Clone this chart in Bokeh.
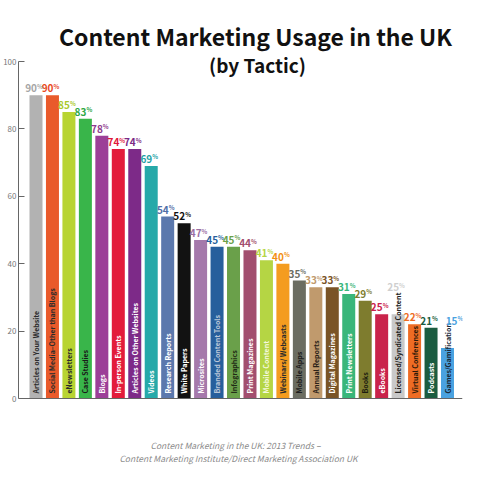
import math
from bokeh.plotting import figure
from bokeh.models import Range1d, LinearAxis, FixedTicker, ColumnDataSource
from bokeh.core.properties import value
from bokeh.embed import file_html
from bokeh.resources import INLINE

# ---------------- data ----------------
title_text = "Content Marketing Usage in the UK"
subtitle_text = "(by Tactic)"
footer_line1 = "Content Marketing in the UK: 2013 Trends \u2013"
footer_line2 = "Content Marketing Institute/Direct Marketing Association UK"

categories = [
    "Articles on Your Website", "Social Media\u2013Other than Blogs", "eNewsletters",
    "Case Studies", "Blogs", "In-person Events", "Articles on Other Websites",
    "Videos", "Research Reports", "White Papers", "Microsites",
    "Branded Content Tools", "Infographics", "Print Magazines", "Mobile Content",
    "Webinars/ Webcasts", "Mobile Apps", "Annual Reports", "Digital Magazines",
    "Print Newsletters", "Books", "eBooks", "Licensed/Syndicated Content",
    "Virtual Conferences", "Podcasts", "Games/Gamification",
]
values = [90, 90, 85, 83, 78, 74, 74, 69, 54, 52, 47, 45, 45, 44, 41, 40,
          35, 33, 33, 31, 29, 25, 25, 22, 21, 15]

y_ticks = [0, 20, 40, 60, 80, 100]

# ---------------- styles ----------------
bar_colors = [
    "#b2b2b2", "#e95a2b", "#b8d432", "#39b54a", "#9c3f98", "#e31b3b", "#7d2a88",
    "#26a9a9", "#5b78ad", "#121212", "#a579ab", "#275f9c", "#6aa04a", "#a24e6e",
    "#b5d544", "#f49c1f", "#6b6d62", "#c09a6d", "#7a5426", "#39b67a", "#7e7c2e",
    "#c9234b", "#c9c9c9", "#ee6c24", "#1b5c40", "#4aa2e0",
]
value_colors = [
    "#a6a6a6", "#e8491d", "#a9c92a", "#2ea843", "#8e3a8d", "#e0173a", "#7a2a85",
    "#1fa1a5", "#4f6ea8", "#111111", "#9b6fa3", "#275f9c", "#6aa04a", "#a24e6e",
    "#b5d544", "#f28f12", "#6b6d62", "#c09a6d", "#7a5426", "#39b67a", "#7e7c2e",
    "#c9234b", "#cfcfcf", "#ee6c24", "#1b5c40", "#4aa2e0",
]
inner_colors = [
    "#2b2b2b", "#2b2b2b", "#2b2b2b", "#1a1a1a", "#ffffff", "#ffffff", "#ffffff",
    "#ffffff", "#ffffff", "#ffffff", "#ffffff", "#b9c6d8", "#1f2a15", "#ffffff",
    "#f4f8dc", "#2b2b2b", "#1d1d1d", "#2b2218", "#ffffff", "#ffffff", "#1d1d10",
    "#ffffff", "#222222", "#2b1a0a", "#ffffff", "#1a2a3a",
]
# extra pixel nudges of the value labels (a few sit above overflowing names)
label_dx = [0] * 25 + [9]
label_dy = [0] * 22 + [-20, 0, 0, -20]

FONT = "Noto Sans CJK SC"

# ---------------- geometry (pixel mapping) ----------------
AXIS_PX = 16           # x of the y axis line
PITCH = 16.46          # px per category
PX_PER_UNIT = 3.37     # px per percentage point
FRAME_W = 444
FRAME_H = 470
X_START = -(33.5 - AXIS_PX) / PITCH
Y_END = 398 / PX_PER_UNIT          # frame top
Y_START = Y_END - FRAME_H / PX_PER_UNIT


def xpx(px):
    return X_START + (px - AXIS_PX) / PITCH


def ypx(py):
    return (398 - py) / PX_PER_UNIT


idx = list(range(len(categories)))
src = ColumnDataSource(dict(
    x=idx, top=values, cat=categories, color=bar_colors,
    vcolor=value_colors, icolor=inner_colors,
    num=[str(v) for v in values], pct=["%"] * len(values),
    ndx=[1 + d for d in label_dx], ndy=[-7 + d for d in label_dy],
    pdy=[-9 + d for d in label_dy],
))

p = figure(
    frame_width=FRAME_W, frame_height=FRAME_H,
    x_range=Range1d(X_START, X_START + FRAME_W / PITCH),
    y_range=Range1d(Y_START, Y_END),
    output_backend="svg", toolbar_location=None, tools="",
    x_axis_location=None, y_axis_location=None,
    min_border_left=AXIS_PX, min_border_right=20, min_border_top=0,
    min_border_bottom=2,
)
p.outline_line_color = None
p.xgrid.visible = False
p.ygrid.visible = False
p.background_fill_color = "white"
p.border_fill_color = "white"

yaxis = LinearAxis(
    ticker=FixedTicker(ticks=y_ticks), bounds=(0, 100),
    major_tick_in=6, major_tick_out=0, minor_tick_in=0, minor_tick_out=0,
    axis_line_color="#666666", major_tick_line_color="#666666",
    major_label_text_font=FONT, major_label_text_font_size="8px",
    major_label_text_color="#777777", major_label_standoff=2,
)
p.add_layout(yaxis, "left")

xaxis = LinearAxis(
    ticker=FixedTicker(ticks=[]), fixed_location=0,
    axis_line_color="#666666", major_tick_in=0, major_tick_out=0,
    minor_tick_in=0, minor_tick_out=0, major_label_text_font_size="0px",
)
p.add_layout(xaxis, "below")

p.vbar(x="x", top="top", bottom=0, width=0.79, fill_color="color",
       line_color=None, source=src)

# category names inside bars
p.text(x="x", y=0, text="cat", angle=math.pi / 2, text_align="left",
       text_baseline="middle", y_offset=-5, text_color="icolor",
       text_font=value(FONT), text_font_size="7px", text_font_style="bold",
       source=src)

# value labels
p.text(x="x", y="top", text="num", text_align="right", text_baseline="middle",
       x_offset="ndx", y_offset="ndy", text_color="vcolor", text_font=value(FONT),
       text_font_size="10px", text_font_style="bold", source=src)
p.text(x="x", y="top", text="pct", text_align="left", text_baseline="middle",
       x_offset="ndx", y_offset="pdy", text_color="vcolor", text_font=value(FONT),
       text_font_size="6px", text_font_style="bold", source=src)

# titles
p.text(x=[xpx(253)], y=[ypx(35)], text=[title_text], text_align="center",
       text_baseline="middle", text_font=value(FONT), text_font_size="23px",
       text_font_style="bold", text_color="#111111")
p.text(x=[xpx(255)], y=[ypx(64)], text=[subtitle_text], text_align="center",
       text_baseline="middle", text_font=value(FONT), text_font_size="19px",
       text_font_style="bold", text_color="#111111")

# footer
p.text(x=[xpx(233)], y=[ypx(444)], text=[footer_line1], text_align="center",
       text_baseline="middle", text_font=value(FONT), text_font_size="8.5px",
       text_font_style="italic", text_color="#8a8a8a")
p.text(x=[xpx(236)], y=[ypx(457)], text=[footer_line2], text_align="center",
       text_baseline="middle", text_font=value(FONT), text_font_size="8.5px",
       text_font_style="italic", text_color="#8a8a8a")

open("out.html", "w").write(file_html(p, INLINE))
